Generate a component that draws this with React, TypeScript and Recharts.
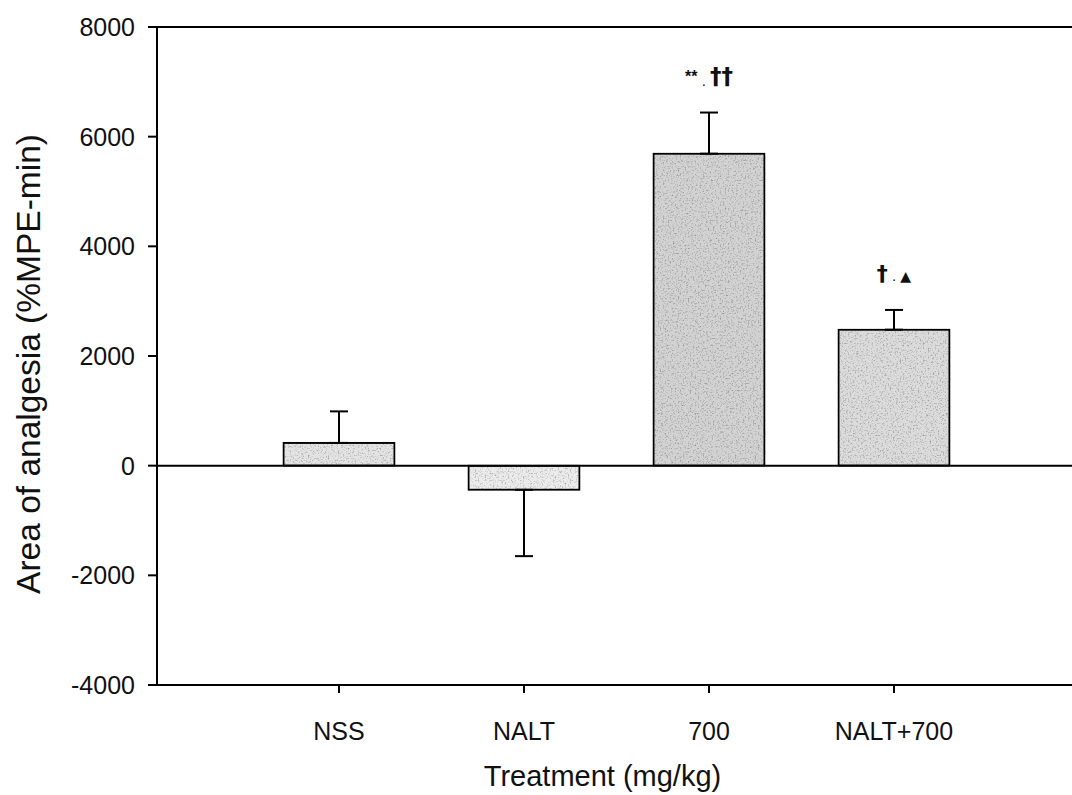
import React from "react";
import {
  ComposedChart,
  Bar,
  ErrorBar,
  XAxis,
  YAxis,
  ReferenceLine,
  ReferenceDot,
} from "recharts";

const categories = ["NSS", "NALT", "700", "NALT+700"];
const means = [415, -440, 5690, 2480];
const semUp = [575, 0, 750, 360];
const semDown = [0, 1210, 0, 0];
const marks = ["", "", "** . \u2020\u2020", "\u2020 . \u25B2"];
const yTicks = [-4000, -2000, 0, 2000, 4000, 6000, 8000];

const barFills = ["#e4e4e4", "#ececec", "#d3d3d3", "#dcdcdc"];
const FONT = '"Liberation Sans", Arial, Helvetica, sans-serif';
const MARK_FONT = '"DejaVu Sans", "Liberation Sans", sans-serif';

const data = categories.map((name, i) => ({
  name,
  mean: means[i],
  err: [semDown[i], semUp[i]],
}));

function GrainBar(props: any) {
  const { x, y, width, height, index } = props;
  const top = Math.min(y, y + height);
  const h = Math.abs(height);
  return (
    <rect
      x={x}
      y={top}
      width={width}
      height={h}
      fill={barFills[index]}
      stroke="#000"
      strokeWidth={2}
      filter="url(#grain)"
    />
  );
}

function YTitle(props: any) {
  const { viewBox } = props;
  const cx = viewBox.x + 28;
  const cy = viewBox.y + viewBox.height / 2 + 8;
  return (
    <text
      x={cx}
      y={cy}
      transform={`rotate(-90 ${cx} ${cy})`}
      textAnchor="middle"
      dominantBaseline="central"
      fontSize={33.5}
      fontFamily={FONT}
      fill="#111"
    >
      Area of analgesia (%MPE-min)
    </text>
  );
}

function XTitle(props: any) {
  const { viewBox } = props;
  return (
    <text
      x={viewBox.x + viewBox.width / 2 - 12}
      y={viewBox.y + 101}
      textAnchor="middle"
      fontSize={29}
      fontFamily={FONT}
      fill="#111"
    >
      Treatment (mg/kg)
    </text>
  );
}

function Mark(props: any) {
  const { viewBox, text } = props;
  const cx = viewBox.x + viewBox.width / 2;
  const cy = viewBox.y + viewBox.height / 2 - 29;
  const parts = text.split(" . ");
  const isStar = parts[0].startsWith("*");
  return (
    <text x={cx} y={cy} textAnchor="middle" fontFamily={MARK_FONT} fill="#111">
      <tspan
        fontSize={isStar ? 16 : 22}
        fontWeight="bold"
        fontFamily={isStar ? FONT : MARK_FONT}
        dy={isStar ? -2 : 0}
      >
        {parts[0]}
      </tspan>
      <tspan fontSize={15} fontFamily={FONT} dy={isStar ? 4 : 0}>
        {" . "}
      </tspan>
      <tspan
        fontSize={parts[1].includes("\u25B2") ? 14 : 23}
        fontWeight="bold"
        dy={isStar ? -2 : 0}
      >
        {parts[1]}
      </tspan>
    </text>
  );
}

export default function App() {
  return (
    <div
      style={{
        position: "absolute",
        left: 0,
        top: 0,
        width: 1072,
        height: 795,
        background: "#fff",
        overflow: "hidden",
      }}
    >
      <ComposedChart
        width={1072}
        height={795}
        data={data}
        margin={{ top: 27, right: 0, bottom: 0, left: 0 }}
        style={{ fontFamily: FONT }}
      >
        <defs>
          <filter
            id="grain"
            x="-5%"
            y="-5%"
            width="110%"
            height="110%"
            colorInterpolationFilters="sRGB"
          >
            <feTurbulence
              type="fractalNoise"
              baseFrequency="0.6"
              numOctaves={2}
              seed={4}
              result="noise"
            />
            <feColorMatrix
              in="noise"
              type="matrix"
              values="0.8 0 0 0 0.6  0.8 0 0 0 0.6  0.8 0 0 0 0.6  0 0 0 0 1"
              result="grey"
            />
            <feBlend in="SourceGraphic" in2="grey" mode="multiply" result="mix" />
            <feComposite in="mix" in2="SourceGraphic" operator="in" />
          </filter>
        </defs>
        <XAxis
          dataKey="name"
          height={110}
          padding={{ left: 89.5, right: 85.5 }}
          axisLine={{ stroke: "#000", strokeWidth: 2 }}
          tickLine={{ stroke: "#000", strokeWidth: 2 }}
          tickSize={8}
          tickMargin={29}
          tick={{ fontSize: 25, fill: "#111", fontFamily: FONT }}
          label={<XTitle />}
        />
        <YAxis
          width={157}
          domain={[-4000, 8000]}
          ticks={yTicks}
          interval={0}
          allowDataOverflow
          axisLine={{ stroke: "#000", strokeWidth: 2 }}
          tickLine={{ stroke: "#000", strokeWidth: 2 }}
          tickSize={9}
          tickMargin={13}
          tick={{ fontSize: 25, fill: "#111", fontFamily: FONT }}
          label={<YTitle />}
        />
        <ReferenceLine y={8000} stroke="#000" strokeWidth={2} />
        <ReferenceLine y={0} stroke="#000" strokeWidth={2} />
        <Bar
          dataKey="mean"
          barSize={111}
          isAnimationActive={false}
          shape={<GrainBar />}
        >
          <ErrorBar
            dataKey="err"
            direction="y"
            width={9}
            stroke="#000"
            strokeWidth={2}
            isAnimationActive={false}
          />
        </Bar>
        {categories.map((c, i) =>
          marks[i] ? (
            <ReferenceDot
              key={c}
              x={c}
              y={means[i] + semUp[i]}
              r={0}
              fill="none"
              stroke="none"
              label={<Mark text={marks[i]} />}
            />
          ) : null
        )}
      </ComposedChart>
    </div>
  );
}
